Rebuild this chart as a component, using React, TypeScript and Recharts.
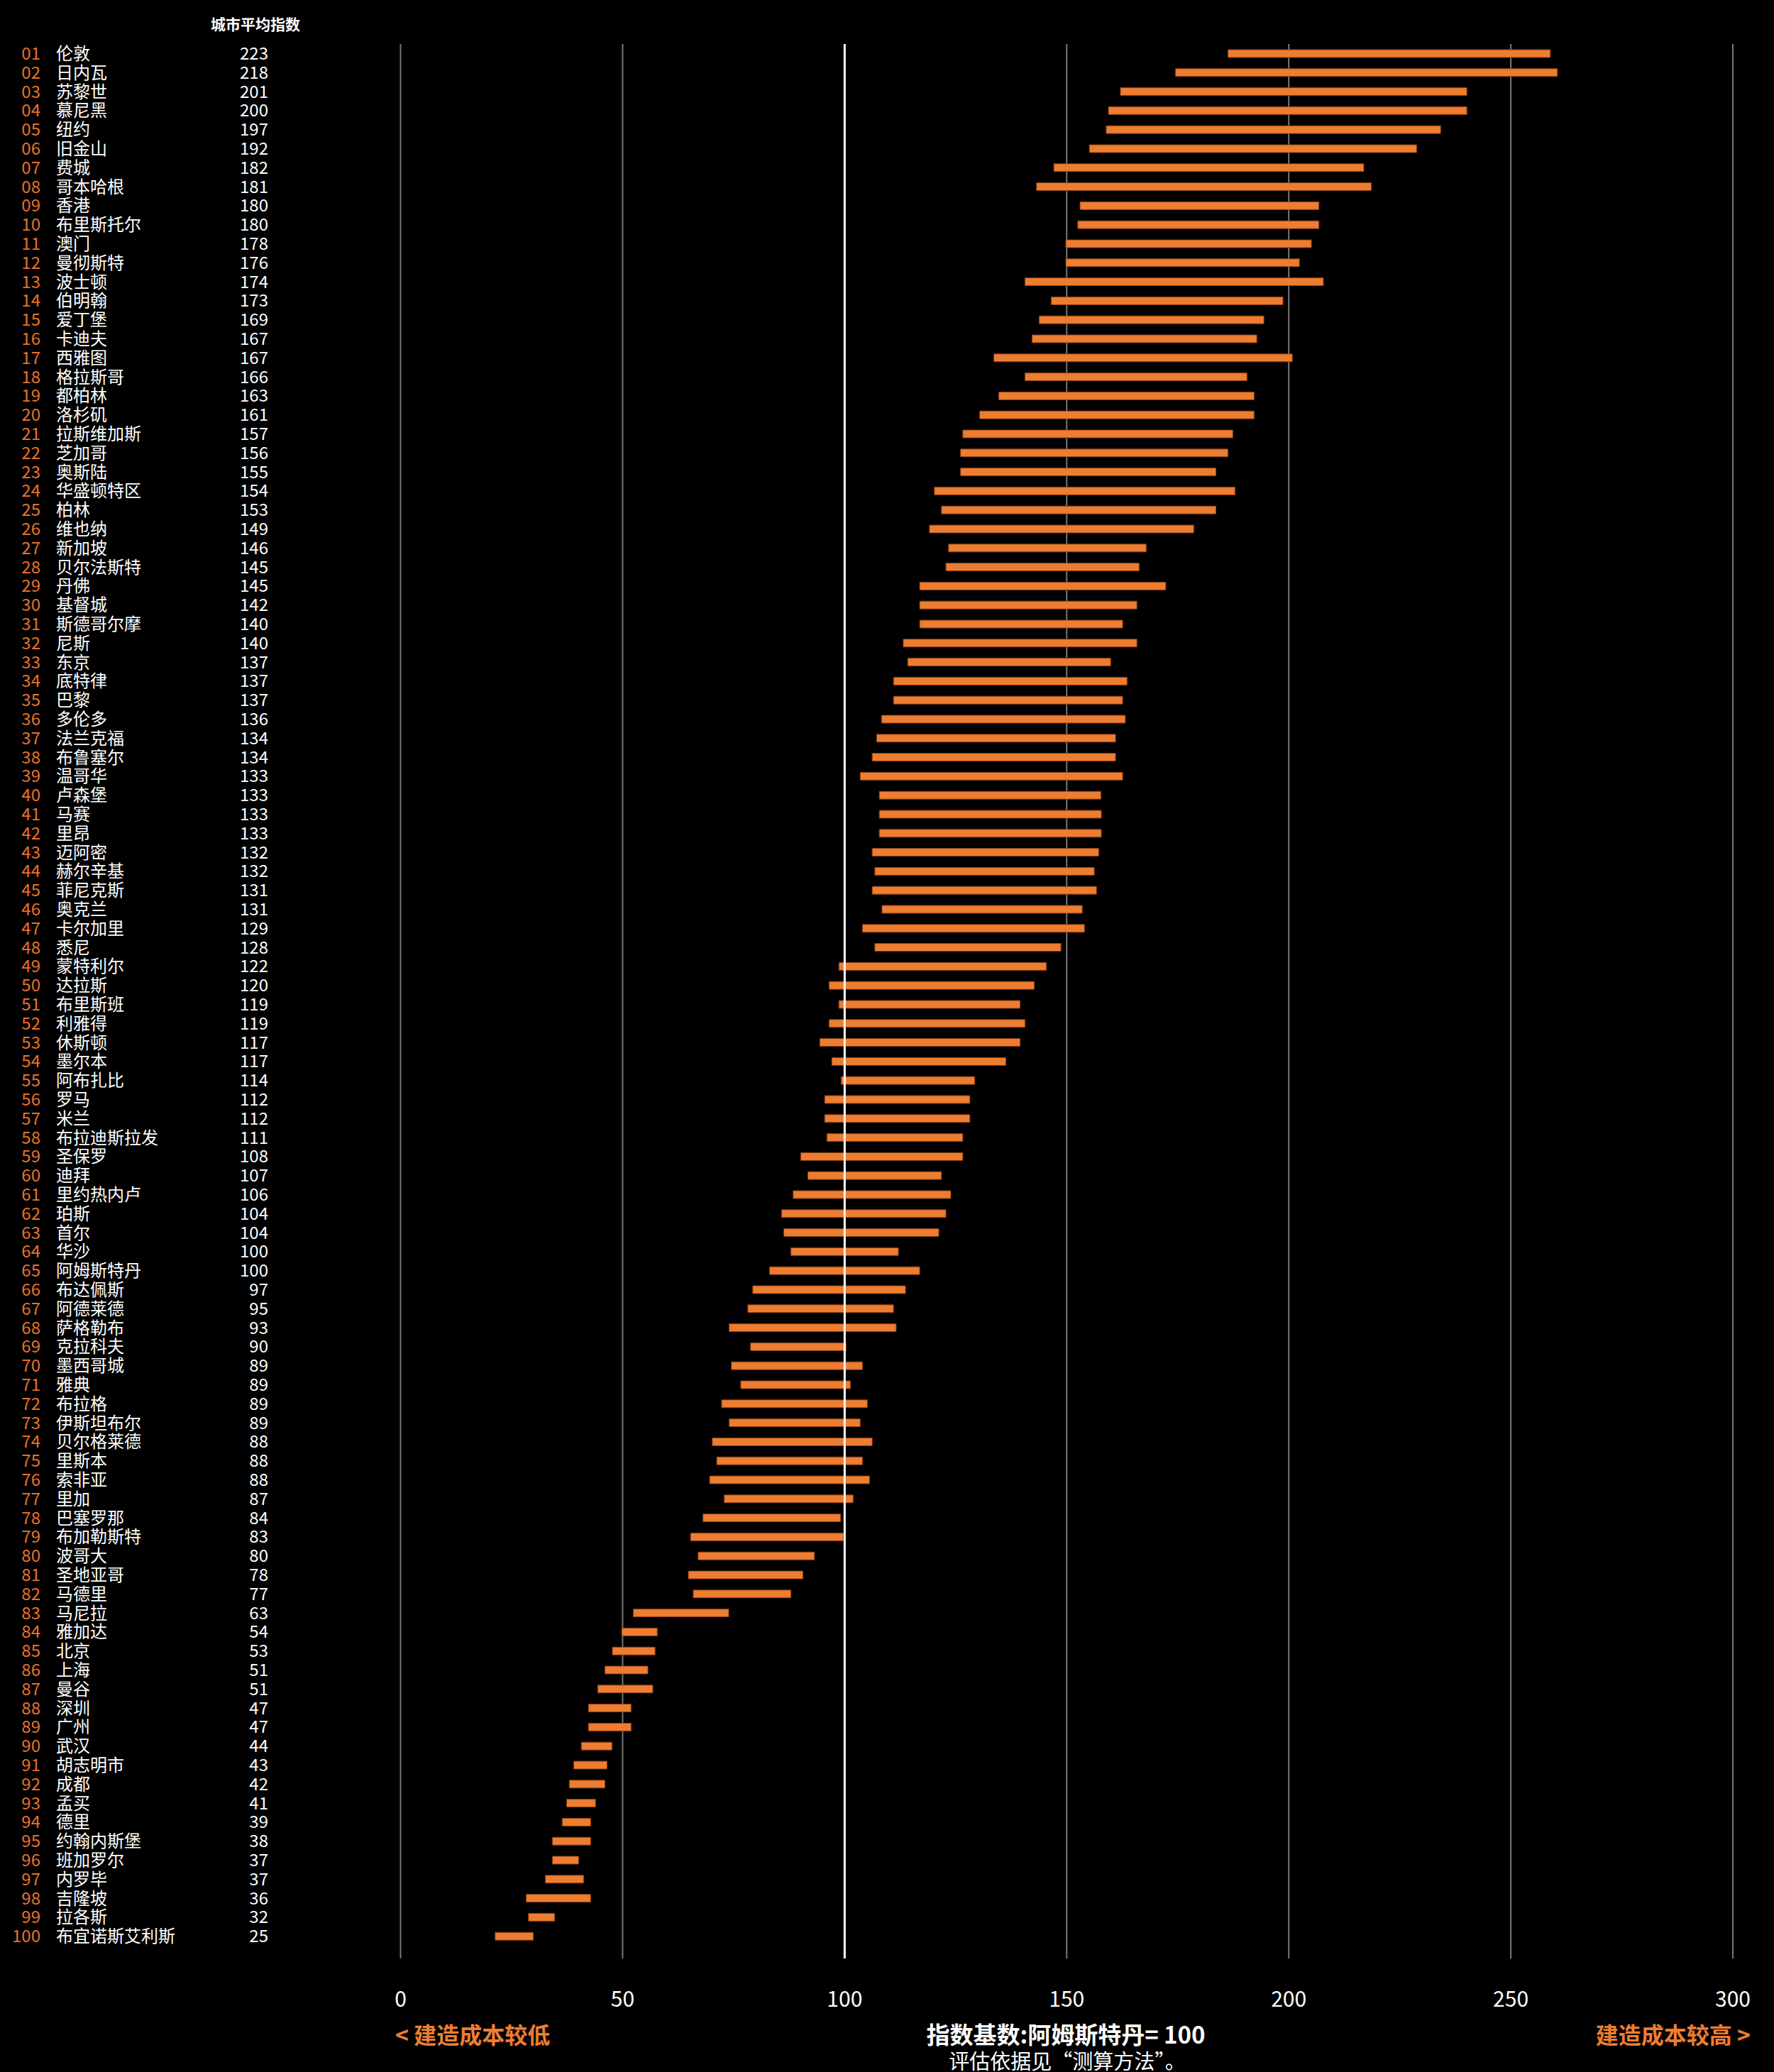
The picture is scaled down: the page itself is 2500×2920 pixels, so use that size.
import { BarChart, Bar, XAxis, YAxis, CartesianGrid, ReferenceLine } from "recharts";

const cities = [
  "伦敦", "日内瓦", "苏黎世", "慕尼黑", "纽约", "旧金山", "费城", "哥本哈根", "香港", "布里斯托尔",
  "澳门", "曼彻斯特", "波士顿", "伯明翰", "爱丁堡", "卡迪夫", "西雅图", "格拉斯哥", "都柏林", "洛杉矶",
  "拉斯维加斯", "芝加哥", "奥斯陆", "华盛顿特区", "柏林", "维也纳", "新加坡", "贝尔法斯特", "丹佛", "基督城",
  "斯德哥尔摩", "尼斯", "东京", "底特律", "巴黎", "多伦多", "法兰克福", "布鲁塞尔", "温哥华", "卢森堡",
  "马赛", "里昂", "迈阿密", "赫尔辛基", "菲尼克斯", "奥克兰", "卡尔加里", "悉尼", "蒙特利尔", "达拉斯",
  "布里斯班", "利雅得", "休斯顿", "墨尔本", "阿布扎比", "罗马", "米兰", "布拉迪斯拉发", "圣保罗", "迪拜",
  "里约热内卢", "珀斯", "首尔", "华沙", "阿姆斯特丹", "布达佩斯", "阿德莱德", "萨格勒布", "克拉科夫", "墨西哥城",
  "雅典", "布拉格", "伊斯坦布尔", "贝尔格莱德", "里斯本", "索非亚", "里加", "巴塞罗那", "布加勒斯特", "波哥大",
  "圣地亚哥", "马德里", "马尼拉", "雅加达", "北京", "上海", "曼谷", "深圳", "广州", "武汉",
  "胡志明市", "成都", "孟买", "德里", "约翰内斯堡", "班加罗尔", "内罗毕", "吉隆坡", "拉各斯", "布宜诺斯艾利斯",
];

const avgIndex = [
  223, 218, 201, 200, 197, 192, 182, 181, 180, 180,
  178, 176, 174, 173, 169, 167, 167, 166, 163, 161,
  157, 156, 155, 154, 153, 149, 146, 145, 145, 142,
  140, 140, 137, 137, 137, 136, 134, 134, 133, 133,
  133, 133, 132, 132, 131, 131, 129, 128, 122, 120,
  119, 119, 117, 117, 114, 112, 112, 111, 108, 107,
  106, 104, 104, 100, 100, 97, 95, 93, 90, 89,
  89, 89, 89, 88, 88, 88, 87, 84, 83, 80,
  78, 77, 63, 54, 53, 51, 51, 47, 47, 44,
  43, 42, 41, 39, 38, 37, 37, 36, 32, 25,
];

const lowIndex = [
  186.3, 174.5, 162.1, 159.4, 158.9, 155.1, 147.1, 143.2, 153.0, 152.5,
  149.8, 149.8, 140.6, 146.5, 143.8, 142.2, 133.6, 140.6, 134.7, 130.4,
  126.6, 126.1, 126.1, 120.2, 121.8, 119.1, 123.4, 122.8, 116.9, 116.9,
  116.9, 113.2, 114.2, 111.0, 111.0, 108.3, 107.2, 106.2, 103.5, 107.8,
  107.8, 107.8, 106.2, 106.8, 106.2, 108.4, 104.0, 106.8, 98.7, 96.5,
  98.7, 96.5, 94.4, 97.1, 99.2, 95.5, 95.5, 96.0, 90.1, 91.7,
  88.4, 85.8, 86.3, 87.9, 83.1, 79.3, 78.2, 74.0, 78.8, 74.5,
  76.6, 72.3, 74.0, 70.2, 71.2, 69.6, 72.9, 68.1, 65.3, 67.0,
  64.8, 65.9, 52.4, 49.8, 47.7, 46.0, 44.4, 42.3, 42.3, 40.7,
  39.0, 38.0, 37.4, 36.4, 34.2, 34.2, 32.6, 28.3, 28.8, 21.3,
];

const highIndex = [
  258.9, 260.5, 240.1, 240.1, 234.2, 228.8, 216.9, 218.6, 206.8, 206.8,
  205.1, 202.4, 207.8, 198.7, 194.4, 192.8, 200.8, 190.6, 192.2, 192.2,
  187.4, 186.3, 183.6, 187.9, 183.6, 178.6, 167.9, 166.3, 172.3, 165.8,
  162.6, 165.8, 159.9, 163.6, 162.6, 163.2, 161.0, 161.0, 162.6, 157.7,
  157.8, 157.8, 157.2, 156.2, 156.7, 153.5, 154.0, 148.7, 145.4, 142.7,
  139.5, 140.6, 139.5, 136.3, 129.3, 128.2, 128.2, 126.6, 126.6, 121.8,
  123.9, 122.8, 121.2, 112.1, 116.9, 113.7, 111.0, 111.6, 100.3, 104.0,
  101.3, 105.1, 103.5, 106.2, 104.0, 105.6, 101.9, 99.1, 99.7, 93.2,
  90.6, 87.9, 73.9, 57.8, 57.3, 55.7, 56.8, 51.9, 51.9, 47.6,
  46.5, 46.0, 43.9, 42.8, 42.8, 40.1, 41.2, 42.8, 34.7, 29.9,
];

const xTicks = [0, 50, 100, 150, 200, 250, 300];

const data = cities.map((city, i) => ({
  city,
  rank: i + 1,
  avg: avgIndex[i],
  range: [lowIndex[i], highIndex[i]],
}));

const ORANGE = "#ED7D31";
const FONT = "'Noto Sans CJK SC', 'Noto Sans', sans-serif";

// left columns: rank / city / average index
function CityTick(props: any) {
  const { y, payload } = props;
  const row = data[payload.index];
  const rank = row.rank < 10 ? "0" + row.rank : String(row.rank);
  const ty = y - 2;
  return (
    <g fontFamily={FONT} fontSize={24}>
      <text x={57} y={ty} textAnchor="end" dominantBaseline="central" fill="#E8712A">
        {rank}
      </text>
      <text x={79} y={ty} textAnchor="start" dominantBaseline="central" fill="#fff">
        {row.city}
      </text>
      <text x={378} y={ty} textAnchor="end" dominantBaseline="central" fill="#fff">
        {row.avg}
      </text>
    </g>
  );
}

function ValueTick(props: any) {
  const { x, payload } = props;
  return (
    <text x={x} y={2815} textAnchor="middle" dominantBaseline="central" fill="#fff" fontFamily={FONT} fontSize={30}>
      {payload.value}
    </text>
  );
}

export default function App() {
  return (
    <div style={{ position: "relative", width: 2500, height: 2920, background: "#000", fontFamily: FONT }}>
      <style>{`body{margin:0;background:#000}`}</style>
      <BarChart
        width={2500}
        height={2920}
        data={data}
        layout="vertical"
        margin={{ top: 62, right: 58, bottom: 100, left: 4.5 }}
        barCategoryGap={0}
      >
        <XAxis
          type="number"
          domain={[0, 300]}
          ticks={xTicks}
          axisLine={false}
          tickLine={false}
          height={60}
          tick={<ValueTick />}
        />
        <YAxis
          type="category"
          dataKey="city"
          width={560}
          axisLine={false}
          tickLine={false}
          interval={0}
          padding={{ top: 0, bottom: 18 }}
          tick={<CityTick />}
        />
        <Bar
          dataKey="range"
          fill={ORANGE}
          stroke="#8A3D12"
          strokeWidth={1}
          barSize={11}
          isAnimationActive={false}
        />
        <CartesianGrid horizontal={false} stroke="#777" strokeWidth={2} />
        <ReferenceLine x={100} stroke="#fff" strokeWidth={3} />
      </BarChart>

      <div
        style={{
          position: "absolute",
          left: 297,
          top: 18,
          color: "#fff",
          fontSize: 21,
          fontWeight: 700,
          lineHeight: "30px",
        }}
      >
        城市平均指数
      </div>

      <div
        style={{
          position: "absolute",
          left: 557,
          top: 2846,
          color: ORANGE,
          fontSize: 32,
          fontWeight: 700,
          lineHeight: "40px",
        }}
      >
        &lt; 建造成本较低
      </div>
      <div
        style={{
          position: "absolute",
          right: 2500 - 2467,
          top: 2846,
          color: ORANGE,
          fontSize: 32,
          fontWeight: 700,
          lineHeight: "40px",
        }}
      >
        建造成本较高 &gt;
      </div>
      <div
        style={{
          position: "absolute",
          left: 1002,
          width: 1000,
          top: 2846,
          textAlign: "center",
          color: "#fff",
          fontSize: 33,
          fontWeight: 700,
          lineHeight: "40px",
        }}
      >
        指数基数:阿姆斯特丹= 100
      </div>
      <div
        style={{
          position: "absolute",
          left: 1004,
          width: 1000,
          top: 2885,
          textAlign: "center",
          color: "#fff",
          fontSize: 29,
          lineHeight: "36px",
        }}
      >
        评估依据见“测算方法”。
      </div>
    </div>
  );
}
